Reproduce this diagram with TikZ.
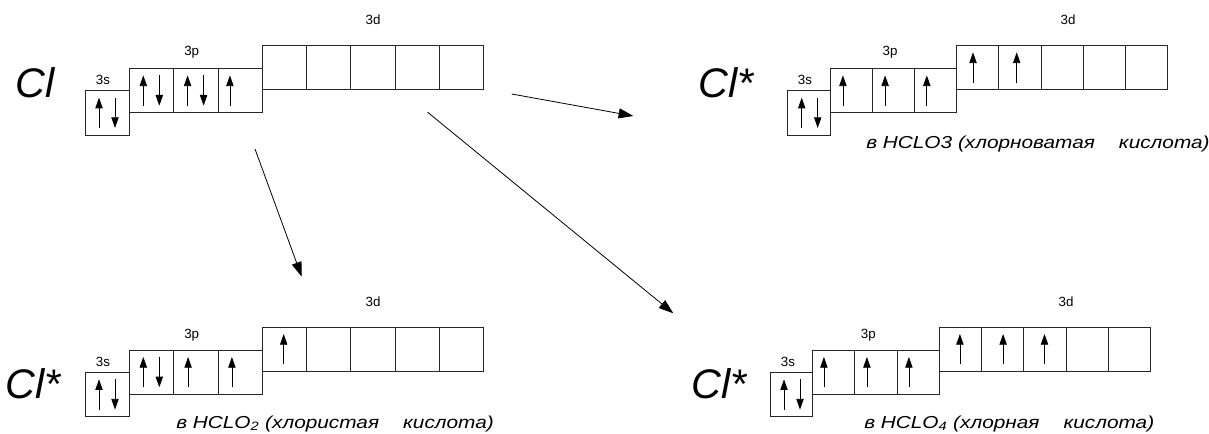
\documentclass[tikz,border=0pt]{standalone}
\usepackage{fontspec}
\setmainfont{Liberation Sans}
\newfontfamily\capfont[FakeStretch=1.2]{Liberation Sans}
\usetikzlibrary{calc,arrows.meta}
\newcommand\orbrow[4]{%
  \node[orb, minimum width=#4*0.75pt, anchor=north west] (#1s) at (#2,#3) {};
  \node[orb, minimum width=#4*0.75pt, anchor=north west] (#1p1) at ($(#1s.north east)+(0,-22.3)$) {};
  \node[orb, minimum width=#4*0.75pt, anchor=north west] (#1p2) at (#1p1.north east) {};
  \node[orb, minimum width=#4*0.75pt, anchor=north west] (#1p3) at (#1p2.north east) {};
  \node[orb, minimum width=#4*0.75pt, anchor=north west] (#1d1) at ($(#1p3.north east)+(0,-23)$) {};
  \node[orb, minimum width=#4*0.75pt, anchor=north west] (#1d2) at (#1d1.north east) {};
  \node[orb, minimum width=#4*0.75pt, anchor=north west] (#1d3) at (#1d2.north east) {};
  \node[orb, minimum width=#4*0.75pt, anchor=north west] (#1d4) at (#1d3.north east) {};
  \node[orb, minimum width=#4*0.75pt, anchor=north west] (#1d5) at (#1d4.north east) {};
}
\newcommand\spinup[2]{\draw[spin] ($(#1.south west)+(#2,-7)$) -- ($(#1.north west)+(#2,7)$);}
\newcommand\spindn[2]{\draw[spin] ($(#1.north west)+(#2,7)$) -- ($(#1.south west)+(#2,-7)$);}
\newcommand\spinpair[1]{\spinup{#1}{14}\spindn{#1}{30}}
\begin{document}
\begin{tikzpicture}[x=0.75pt,y=-0.75pt,
  orb/.style={draw=black!85, line width=0.6pt, inner sep=0pt, outer sep=0pt, minimum height=33.2pt},
  spin/.style={line width=0.6pt, -{Triangle[length=8pt,width=5.5pt]}},
  conn/.style={line width=0.6pt, black, -{Triangle[length=11pt,width=7.5pt]}},
  elem/.style={font=\fontsize{31}{31}\selectfont\itshape, inner sep=0pt, anchor=base west},
  lbl/.style={font=\fontsize{10}{10}\selectfont, inner sep=0pt, anchor=base},
  captxt/.style={font=\fontsize{13}{13}\capfont\itshape, inner sep=0pt, anchor=base west}]
\useasboundingbox (0,0) rectangle (1209,434);
% top-left
\node[elem] (cl) at (15,98) {Cl};
\orbrow{a}{85}{90.7}{44.3}
\node[lbl] (a3s) at (103,85) {3s};
\node[lbl] (a3p) at (191.7,56) {3p};
\node[lbl] (a3d) at (373,25) {3d};
\spinpair{as}\spinpair{ap1}\spinpair{ap2}\spinup{ap3}{12}
% top-right
\node[elem] (clb) at (698,98) {Cl*};
\orbrow{b}{787.7}{90.7}{42.2}
\node[lbl] (b3s) at (805,85) {3s};
\node[lbl] (b3p) at (890,56) {3p};
\node[lbl] (b3d) at (1068,25) {3d};
\spinpair{bs}\spinup{bp1}{13}\spinup{bp2}{13}\spinup{bp3}{12.5}\spinup{bd1}{16.5}\spinup{bd2}{18}
\node[captxt] (bcap) at (866,148.3) {в HCLO3 (хлорноватая\hspace{18pt}кислота)};
% bottom-left
\node[elem] (clc) at (5,398.7) {Cl*};
\orbrow{c}{85}{372.3}{44.3}
\node[lbl] (c3s) at (103,366.7) {3s};
\node[lbl] (c3p) at (191.7,338.3) {3p};
\node[lbl] (c3d) at (373,306.7) {3d};
\spinpair{cs}\spinpair{cp1}\spinup{cp2}{14.5}\spinup{cp3}{14}\spinup{cd1}{21.5}
\node[captxt] (ccap) at (176,428) {в HCLO\textsubscript{2} (хлористая\hspace{18pt}кислота)};
% bottom-right
\node[elem] (cld) at (691,398.7) {Cl*};
\orbrow{d}{770}{372.3}{42.3}
\node[lbl] (d3s) at (788,366.7) {3s};
\node[lbl] (d3p) at (868.3,338.3) {3p};
\node[lbl] (d3d) at (1066,306.7) {3d};
\spinpair{ds}\spinup{dp1}{11.6}\spinup{dp2}{12.3}\spinup{dp3}{12}\spinup{dd1}{20.7}\spinup{dd2}{21.6}\spinup{dd3}{20.7}
\node[captxt] (dcap) at (864,428) {в HCLO\textsubscript{4} (хлорная\hspace{18pt}кислота)};
% connectors
\coordinate (s1) at (511.7,94);
\coordinate (e1) at (633.3,116);
\coordinate (s2) at (255,149);
\coordinate (e2) at (301.7,276.7);
\coordinate (s3) at (427.7,112.3);
\coordinate (e3) at (673.3,313.3);
\draw[conn] (s1) -- (e1);
\draw[conn] (s2) -- (e2);
\draw[conn] (s3) -- (e3);
\end{tikzpicture}
\end{document}
